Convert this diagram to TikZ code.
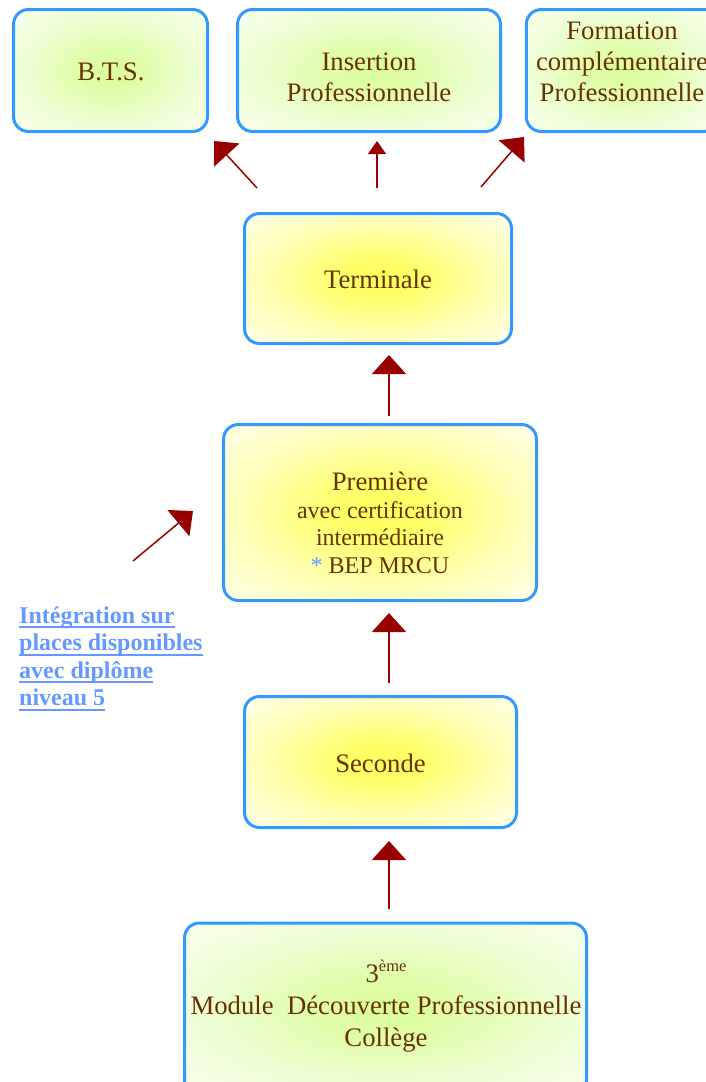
\documentclass[tikz,border=0pt]{standalone}
\usepackage{fontspec}
\setmainfont{Liberation Serif}
\usetikzlibrary{arrows.meta}
\definecolor{boxblue}{HTML}{3399FF}
\definecolor{txtbrown}{HTML}{663300}
\definecolor{arrred}{HTML}{990000}
\definecolor{linkblue}{HTML}{6699FF}
\definecolor{ycen}{HTML}{FFFF5C}
\definecolor{yc2}{HTML}{FFFF6C}
\definecolor{ymid}{HTML}{FFFFB8}
\definecolor{yedge}{HTML}{FFFFF3}
\definecolor{gcen}{HTML}{DAFC9C}
\definecolor{gc2}{HTML}{DFFDA8}
\definecolor{gmid}{HTML}{EEFED4}
\definecolor{gedge}{HTML}{FAFFF3}
\pgfdeclareradialshading{yglow}{\pgfpoint{0bp}{0bp}}{color(0bp)=(ycen); color(8bp)=(yc2); color(22bp)=(ymid); color(38bp)=(yedge); color(50bp)=(yedge)}
\pgfdeclareradialshading{gglow}{\pgfpoint{0bp}{0bp}}{color(0bp)=(gcen); color(8bp)=(gc2); color(22bp)=(gmid); color(38bp)=(gedge); color(50bp)=(gedge)}
\newcommand\myul[1]{\setbox0\hbox{#1}\rlap{\rule[-5pt]{\wd0}{2pt}}\box0}
\tikzset{
  box/.style={draw=boxblue, line width=3pt, rounded corners=15pt, inner sep=0pt},
  ybox/.style={box, shading=yglow},
  gbox/.style={box, shading=gglow},
  txt/.style={text=txtbrown, align=center, inner sep=0pt, font=\fontsize{26.7}{31}\selectfont},
  arr/.style={draw=arrred, line width=1.5pt, -{Triangle[length=19pt,width=34pt]}},
  sarr/.style={draw=arrred, line width=1.5pt, -{Triangle[length=13pt,width=18pt]}},
}
\begin{document}
\begin{tikzpicture}[x=1pt, y=-1pt]
\useasboundingbox (0,0) rectangle (706,1082);
\clip (0,0) rectangle (706,1082);
% boxes
\node[gbox, minimum width=194pt, minimum height=122pt] (bts) at (110.5,70.5) {};
\node[gbox, minimum width=263pt, minimum height=122pt] (ins) at (369,70.5) {};
\node[gbox, minimum width=193pt, minimum height=122pt] (form) at (622.75,70.5) {};
\node[ybox, minimum width=267pt, minimum height=130pt] (term) at (378,278.5) {};
\node[ybox, minimum width=313pt, minimum height=176pt] (prem) at (380,512.5) {};
\node[ybox, minimum width=272pt, minimum height=131pt] (sec) at (380.5,762) {};
\node[gbox, minimum width=402pt, minimum height=172pt] (col) at (385.5,1009) {};
% texts
\node[txt] (tbts) at (111,71.5) {B.T.S.};
\node[txt] (tins) at (369,77) {Insertion\\Professionnelle};
\node[txt] (tform) at (622,62) {Formation\\complémentaire\\Professionnelle};
\node[txt] (tterm) at (378,279) {Terminale};
\node[txt, font=\fontsize{24}{27.5}\selectfont] (tprem) at (380,523) {{\fontsize{26.7}{27.5}\selectfont Première}\\avec certification\\intermédiaire\\{\color{linkblue}*} BEP MRCU};
\node[txt] (tsec) at (380.5,763) {Seconde};
\node[txt, font=\fontsize{26.7}{32}\selectfont] (tcol) at (386,1006) {3\raisebox{11pt}{\fontsize{16.5}{16.5}\selectfont ème}\\Module~ Découverte Professionnelle\\Collège};
\node[anchor=north west, inner sep=0pt, align=left, text=linkblue, font=\bfseries\fontsize{24}{27.5}\selectfont] (integ) at (19,606.5) {\myul{Intégration sur}\\\myul{places disponibles}\\\myul{avec diplôme}\\\myul{niveau 5}};
% arrow end points
\coordinate (a1s) at (257,188); \coordinate (a1e) at (214,141);
\coordinate (a2s) at (377,188); \coordinate (a2e) at (377,141);
\coordinate (a3s) at (481,187); \coordinate (a3e) at (524,137);
\coordinate (a4s) at (389,416); \coordinate (a4e) at (389,355);
\coordinate (a5s) at (389,683); \coordinate (a5e) at (389,613);
\coordinate (a6s) at (389,909); \coordinate (a6e) at (389,841);
\coordinate (a7s) at (133,561); \coordinate (a7e) at (193,511);
\draw[arr] (a1s) -- (a1e);
\draw[sarr] (a2s) -- (a2e);
\draw[arr] (a3s) -- (a3e);
\draw[arr] (a4s) -- (a4e);
\draw[arr] (a5s) -- (a5e);
\draw[arr] (a6s) -- (a6e);
\draw[arr] (a7s) -- (a7e);
\end{tikzpicture}
\end{document}
